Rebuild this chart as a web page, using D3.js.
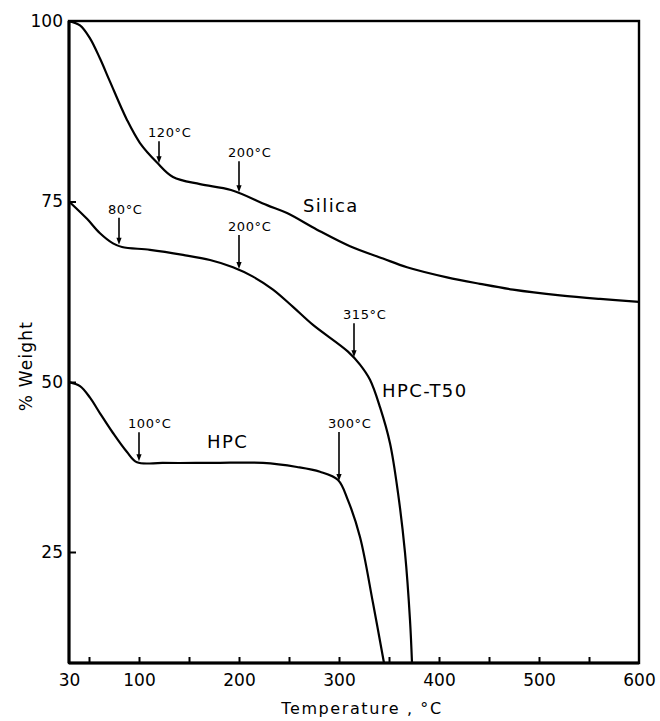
<!DOCTYPE html>
<html>
<head>
<meta charset="utf-8">
<script src="https://cdn.jsdelivr.net/npm/d3@7"></script>
<style>
  html, body { margin: 0; padding: 0; background: #fff; }
  svg { display: block; font-family: "DejaVu Sans", "Liberation Sans", sans-serif; }
</style>
</head>
<body>
<svg id="chart" width="660" height="721"></svg>
<script>
// Thermogravimetric curves: temperature (°C) vs. % weight
const silicaTemp   = [30, 41, 51, 61, 71, 88, 101, 118, 134, 161, 192, 228, 248, 278, 311, 344, 368, 408, 441, 474, 521, 561, 600];
const silicaWeight = [100, 99.4, 97.6, 94.8, 91.6, 86.3, 83.1, 80.4, 78.4, 77.4, 76.6, 74.5, 73.4, 71.1, 68.8, 67.1, 65.9, 64.5, 63.6, 62.8, 62.0, 61.5, 61.1];

const t50Temp   = [30, 48, 61, 74, 83, 111, 144, 171, 194, 214, 234, 254, 274, 309, 321, 331, 341, 351, 359, 366, 371, 373];
const t50Weight = [75, 72.6, 70.6, 69.2, 68.7, 68.3, 67.6, 66.9, 65.9, 64.6, 62.8, 60.4, 57.9, 54.2, 52.4, 50.3, 46.3, 41.0, 33.7, 24.9, 15.0, 8.7];

const hpcTemp   = [30, 41, 51, 61, 74, 88, 98, 124, 174, 224, 258, 281, 299, 309, 321, 334, 345];
const hpcWeight = [50, 49.4, 47.7, 45.4, 42.5, 39.7, 38.2, 38.1, 38.1, 38.1, 37.5, 36.8, 35.6, 32.6, 27.2, 17.5, 8.7];

const seriesNames = ["Silica", "HPC-T50", "HPC"];

// Marked transition temperatures on each curve
const markSeries = ["Silica", "Silica", "HPC-T50", "HPC-T50", "HPC-T50", "HPC", "HPC"];
const markTemps  = [120, 200, 80, 200, 315, 100, 300];

const xTickLabels = [30, 100, 200, 300, 400, 500, 600];
const xTickMarks  = [50, 100, 150, 200, 250, 300, 350, 400, 450, 500, 550];
const yTickLabels = [25, 50, 75, 100];
const yBottom = 8.7;

(function draw() {
  const svg = d3.select("#chart");
  const pLeft = 69, pRight = 639, pTop = 21, pBottom = 663;

  const x = d3.scaleLinear().domain([30, 600]).range([pLeft, pRight]);
  // the printed weight axis is slightly uneven toward the bottom
  const y = d3.scaleLinear().domain([yBottom, 25, 50, 100]).range([pBottom, 552, 382, pTop]);

  const series = {
    "Silica":  silicaTemp.map((t, i) => ({ t, w: silicaWeight[i] })),
    "HPC-T50": t50Temp.map((t, i) => ({ t, w: t50Weight[i] })),
    "HPC":     hpcTemp.map((t, i) => ({ t, w: hpcWeight[i] }))
  };

  // label placement kept apart from the data
  const arrowLen = [22, 31, 27, 34, 34, 29, 49];
  const nameAt = {
    "Silica":  { t: 264, w: 73.6 },
    "HPC-T50": { t: 343, w: 47.8 },
    "HPC":     { t: 168, w: 40.3 }
  };

  svg.append("defs").append("clipPath").attr("id", "plotClip")
    .append("rect").attr("x", pLeft).attr("y", pTop)
    .attr("width", pRight - pLeft).attr("height", pBottom - pTop);

  // curves
  const line = d3.line().x(d => x(d.t)).y(d => y(d.w)).curve(d3.curveCatmullRom.alpha(0.5));
  const curves = svg.append("g").attr("clip-path", "url(#plotClip)");
  seriesNames.forEach(name => {
    curves.append("path")
      .datum(series[name])
      .attr("d", line)
      .attr("fill", "none")
      .attr("stroke", "#000")
      .attr("stroke-width", 2.2)
      .attr("stroke-linejoin", "round");
  });

  // frame
  const frame = svg.append("g").attr("fill", "none").attr("stroke", "#000");
  frame.append("rect").attr("x", pLeft).attr("y", pTop)
    .attr("width", pRight - pLeft).attr("height", pBottom - pTop)
    .attr("stroke-width", 2.4);
  frame.append("line").attr("x1", pLeft).attr("x2", pLeft).attr("y1", pTop).attr("y2", pBottom).attr("stroke-width", 3);
  frame.append("line").attr("x1", pLeft).attr("x2", pRight).attr("y1", pBottom).attr("y2", pBottom).attr("stroke-width", 3);

  // x axis: inward tick marks and labels
  const xAxisMarks = d3.axisTop(x).tickValues(xTickMarks).tickSize(6).tickFormat("");
  svg.append("g").attr("transform", `translate(0,${pBottom})`).call(xAxisMarks)
    .call(g => g.select(".domain").remove())
    .call(g => g.selectAll(".tick line").attr("stroke", "#000").attr("stroke-width", 2));
  const xAxisLabels = d3.axisBottom(x).tickValues(xTickLabels).tickSize(0).tickPadding(11).tickFormat(d3.format("d"));
  svg.append("g").attr("transform", `translate(0,${pBottom})`).call(xAxisLabels)
    .call(g => g.select(".domain").remove())
    .call(g => g.selectAll(".tick text")
      .attr("font-size", 17).attr("fill", "#000")
      .attr("font-family", "DejaVu Sans, sans-serif"));

  // y axis
  const yAxis = d3.axisRight(y).tickValues(yTickLabels).tickSize(7).tickFormat("");
  svg.append("g").attr("transform", `translate(${pLeft},0)`).call(yAxis)
    .call(g => g.select(".domain").remove())
    .call(g => g.selectAll(".tick line").attr("stroke", "#000").attr("stroke-width", 2));
  const yAxisLabels = d3.axisLeft(y).tickValues(yTickLabels).tickSize(0).tickPadding(6).tickFormat(d3.format("d"));
  svg.append("g").attr("transform", `translate(${pLeft},0)`).call(yAxisLabels)
    .call(g => g.select(".domain").remove())
    .call(g => g.selectAll(".tick text")
      .attr("font-size", 17).attr("fill", "#000")
      .attr("font-family", "DejaVu Sans, sans-serif"));

  // axis titles
  svg.append("text")
    .attr("x", 362).attr("y", 714)
    .attr("text-anchor", "middle")
    .attr("font-size", 16).attr("letter-spacing", 1.6)
    .text("Temperature , °C");
  svg.append("text")
    .attr("transform", "translate(32,366) rotate(-90)")
    .attr("text-anchor", "middle")
    .attr("font-size", 17).attr("letter-spacing", 1.2)
    .text("% Weight");

  // curve names
  seriesNames.forEach(name => {
    svg.append("text")
      .attr("x", x(nameAt[name].t)).attr("y", y(nameAt[name].w))
      .attr("font-size", 18).attr("letter-spacing", 1.4)
      .text(name);
  });

  // weight at a temperature along a curve (linear between read points)
  function weightAt(name, t) {
    const pts = series[name];
    const i = d3.bisector(d => d.t).left(pts, t);
    if (i <= 0) return pts[0].w;
    if (i >= pts.length) return pts[pts.length - 1].w;
    const a = pts[i - 1], b = pts[i];
    return a.w + (b.w - a.w) * (t - a.t) / (b.t - a.t);
  }

  // transition arrows
  const marks = svg.append("g");
  markTemps.forEach((t, i) => {
    const px = x(t);
    const tipY = y(weightAt(markSeries[i], t)) - 1;
    const topY = tipY - arrowLen[i];
    marks.append("line")
      .attr("x1", px).attr("x2", px).attr("y1", topY).attr("y2", tipY - 4)
      .attr("stroke", "#000").attr("stroke-width", 1.6);
    marks.append("path")
      .attr("d", `M${px - 2.6},${tipY - 7} L${px + 2.6},${tipY - 7} L${px},${tipY} Z`)
      .attr("fill", "#000");
    marks.append("text")
      .attr("x", px - 11).attr("y", topY - 4)
      .attr("font-size", 13).attr("letter-spacing", 0.6)
      .text(`${t}°C`);
  });
})();
</script>
</body>
</html>
